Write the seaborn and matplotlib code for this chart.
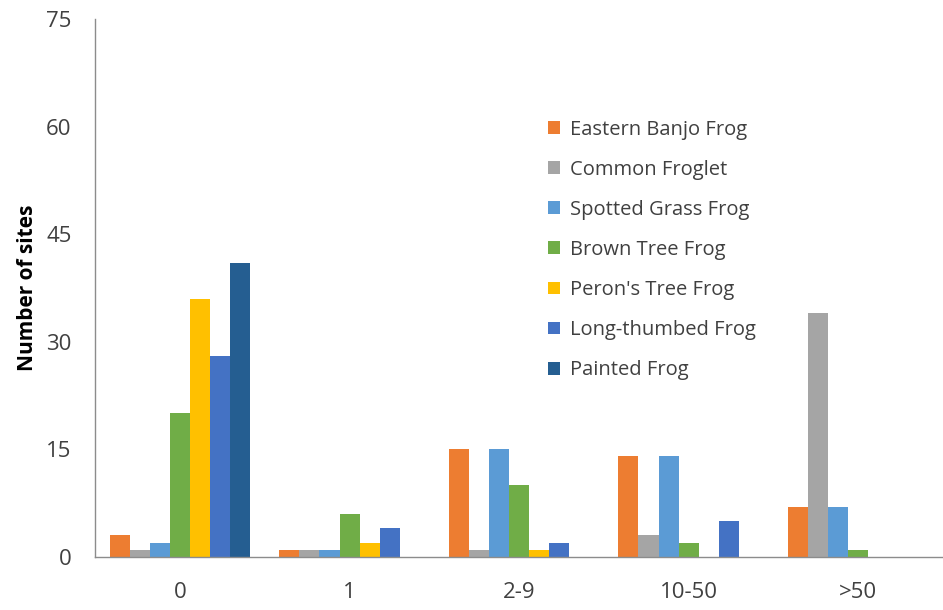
import matplotlib
matplotlib.use("Agg")
import matplotlib.pyplot as plt
from matplotlib.ticker import FixedLocator
import seaborn as sns
import pandas as pd

categories = ["0", "1", "2-9", "10-50", ">50"]
species = ["Eastern Banjo Frog", "Common Froglet", "Spotted Grass Frog",
           "Brown Tree Frog", "Peron's Tree Frog", "Long-thumbed Frog",
           "Painted Frog"]
eastern_banjo = [3, 1, 15, 14, 7]
common_froglet = [1, 1, 1, 3, 34]
spotted_grass = [2, 1, 15, 14, 7]
brown_tree = [20, 6, 10, 2, 1]
perons_tree = [36, 2, 1, 0, 0]
long_thumbed = [28, 4, 2, 5, 0]
painted = [41, 0, 0, 0, 0]
series = [eastern_banjo, common_froglet, spotted_grass, brown_tree,
          perons_tree, long_thumbed, painted]
colors = ["#ED7D31", "#A5A5A5", "#5B9BD5", "#70AD47", "#FFC000",
          "#4472C4", "#255E91"]
yticks = [0, 15, 30, 45, 60, 75]

rows = []
for name, vals in zip(species, series):
    for cat, v in zip(categories, vals):
        rows.append({"Abundance": cat, "Species": name, "Sites": v})
df = pd.DataFrame(rows)

sns.set_theme(style="white")
plt.rcParams["font.family"] = ["Open Sans", "DejaVu Sans"]

fig = plt.figure(figsize=(9.43, 6.10), dpi=100)
ax = fig.add_axes([0.101, 0.087, 0.899, 0.882])

sns.barplot(data=df, x="Abundance", y="Sites", hue="Species",
            order=categories, hue_order=species, palette=colors,
            width=0.83, gap=0, saturation=1, ax=ax, errorbar=None,
            linewidth=0)

axis_col = "#8c8c8c"
ax.set_xlim(-0.5, len(categories) - 0.5)
ax.set_ylim(0, 75)
ax.set_yticks(yticks)
ax.set_yticklabels([str(t) for t in yticks], fontsize=16, color="#404040")
ax.set_xticks(range(len(categories)))
ax.set_xticklabels(categories, fontsize=16, color="#404040")
ax.xaxis.set_minor_locator(FixedLocator([i - 0.5 for i in range(len(categories) + 1)]))
ax.tick_params(axis="x", which="major", length=0, pad=18)
ax.tick_params(axis="x", which="minor", length=7, color=axis_col, width=1, direction="out")
ax.tick_params(axis="y", which="major", length=7, color=axis_col, width=1, direction="out", pad=10)

for side in ["top", "right"]:
    ax.spines[side].set_visible(False)
for side in ["left", "bottom"]:
    ax.spines[side].set_color(axis_col)
    ax.spines[side].set_linewidth(1)

ax.set_xlabel("")
ax.set_ylabel("Number of sites", fontsize=15, fontweight="bold", color="black", labelpad=6)

leg = ax.legend(loc="upper left", bbox_to_anchor=(0.525, 0.828), frameon=False,
                fontsize=14.5, handlelength=0.6, handleheight=0.6,
                handletextpad=0.45, labelspacing=1.0, borderaxespad=0)
for t in leg.get_texts():
    t.set_color("#404040")

fig.savefig("out.png", dpi=100)
